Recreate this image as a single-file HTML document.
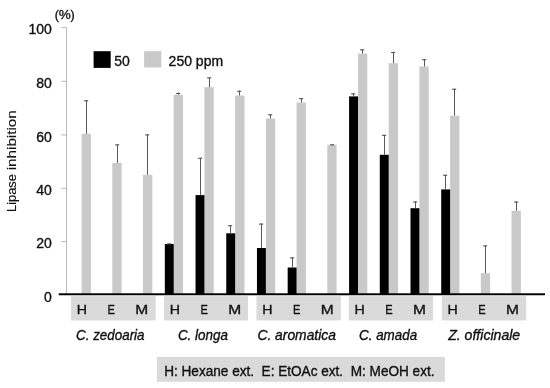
<!DOCTYPE html>
<html><head><meta charset="utf-8"><title>Lipase inhibition</title>
<style>
html,body{margin:0;padding:0;background:#fff;}
body{width:550px;height:388px;overflow:hidden;}
svg{display:block;}
text{font-family:'Liberation Sans', Arial, sans-serif;fill:#111;stroke:#111;stroke-width:0.35px;}
</style></head><body>
<svg width="550" height="388" viewBox="0 0 550 388">
<rect width="550" height="388" fill="#fff"/>
<line x1="66.5" y1="27.6" x2="66.5" y2="294.8" stroke="#b8b8b8" stroke-width="1"/>
<line x1="61.3" y1="27.60" x2="66.5" y2="27.60" stroke="#b8b8b8" stroke-width="1"/>
<line x1="61.3" y1="81.30" x2="66.5" y2="81.30" stroke="#b8b8b8" stroke-width="1"/>
<line x1="61.3" y1="134.90" x2="66.5" y2="134.90" stroke="#b8b8b8" stroke-width="1"/>
<line x1="61.3" y1="188.30" x2="66.5" y2="188.30" stroke="#b8b8b8" stroke-width="1"/>
<line x1="61.3" y1="241.60" x2="66.5" y2="241.60" stroke="#b8b8b8" stroke-width="1"/>
<rect x="81.60" y="133.80" width="9.3" height="161.00" fill="#c9c9c9"/>
<line x1="86.50" y1="100.20" x2="86.50" y2="133.80" stroke="#585858" stroke-width="1"/>
<line x1="84.10" y1="100.80" x2="88.20" y2="100.80" stroke="#585858" stroke-width="1.15"/>
<rect x="112.31" y="162.90" width="9.3" height="131.90" fill="#c9c9c9"/>
<line x1="117.50" y1="144.30" x2="117.50" y2="162.90" stroke="#585858" stroke-width="1"/>
<line x1="115.10" y1="144.90" x2="119.20" y2="144.90" stroke="#585858" stroke-width="1.15"/>
<rect x="143.02" y="174.80" width="9.3" height="120.00" fill="#c9c9c9"/>
<line x1="147.50" y1="134.30" x2="147.50" y2="174.80" stroke="#585858" stroke-width="1"/>
<line x1="145.10" y1="134.90" x2="149.20" y2="134.90" stroke="#585858" stroke-width="1.15"/>
<rect x="173.73" y="94.70" width="9.3" height="200.10" fill="#c9c9c9"/>
<line x1="178.50" y1="92.80" x2="178.50" y2="94.70" stroke="#585858" stroke-width="1"/>
<line x1="176.10" y1="93.40" x2="180.20" y2="93.40" stroke="#585858" stroke-width="1.15"/>
<rect x="164.83" y="244.00" width="8.9" height="50.80" fill="#000"/>
<line x1="169.50" y1="243.30" x2="169.50" y2="244.00" stroke="#585858" stroke-width="1"/>
<line x1="167.10" y1="243.90" x2="171.20" y2="243.90" stroke="#585858" stroke-width="1.15"/>
<rect x="204.44" y="87.20" width="9.3" height="207.60" fill="#c9c9c9"/>
<line x1="209.50" y1="77.30" x2="209.50" y2="87.20" stroke="#585858" stroke-width="1"/>
<line x1="207.10" y1="77.90" x2="211.20" y2="77.90" stroke="#585858" stroke-width="1.15"/>
<rect x="195.54" y="195.10" width="8.9" height="99.70" fill="#000"/>
<line x1="200.50" y1="157.70" x2="200.50" y2="195.10" stroke="#585858" stroke-width="1"/>
<line x1="198.10" y1="158.30" x2="202.20" y2="158.30" stroke="#585858" stroke-width="1.15"/>
<rect x="235.15" y="95.50" width="9.3" height="199.30" fill="#c9c9c9"/>
<line x1="239.50" y1="90.70" x2="239.50" y2="95.50" stroke="#585858" stroke-width="1"/>
<line x1="237.10" y1="91.30" x2="241.20" y2="91.30" stroke="#585858" stroke-width="1.15"/>
<rect x="226.25" y="233.30" width="8.9" height="61.50" fill="#000"/>
<line x1="230.50" y1="225.10" x2="230.50" y2="233.30" stroke="#585858" stroke-width="1"/>
<line x1="228.10" y1="225.70" x2="232.20" y2="225.70" stroke="#585858" stroke-width="1.15"/>
<rect x="265.86" y="118.50" width="9.3" height="176.30" fill="#c9c9c9"/>
<line x1="270.50" y1="114.20" x2="270.50" y2="118.50" stroke="#585858" stroke-width="1"/>
<line x1="268.10" y1="114.80" x2="272.20" y2="114.80" stroke="#585858" stroke-width="1.15"/>
<rect x="256.96" y="248.00" width="8.9" height="46.80" fill="#000"/>
<line x1="261.50" y1="223.50" x2="261.50" y2="248.00" stroke="#585858" stroke-width="1"/>
<line x1="259.10" y1="224.10" x2="263.20" y2="224.10" stroke="#585858" stroke-width="1.15"/>
<rect x="296.57" y="102.50" width="9.3" height="192.30" fill="#c9c9c9"/>
<line x1="301.50" y1="98.00" x2="301.50" y2="102.50" stroke="#585858" stroke-width="1"/>
<line x1="299.10" y1="98.60" x2="303.20" y2="98.60" stroke="#585858" stroke-width="1.15"/>
<rect x="287.67" y="267.50" width="8.9" height="27.30" fill="#000"/>
<line x1="292.50" y1="257.30" x2="292.50" y2="267.50" stroke="#585858" stroke-width="1"/>
<line x1="290.10" y1="257.90" x2="294.20" y2="257.90" stroke="#585858" stroke-width="1.15"/>
<rect x="327.28" y="144.90" width="9.3" height="149.90" fill="#c9c9c9"/>
<line x1="332.50" y1="144.20" x2="332.50" y2="144.90" stroke="#585858" stroke-width="1"/>
<line x1="330.10" y1="144.80" x2="334.20" y2="144.80" stroke="#585858" stroke-width="1.15"/>
<rect x="357.99" y="53.60" width="9.3" height="241.20" fill="#c9c9c9"/>
<line x1="362.50" y1="49.30" x2="362.50" y2="53.60" stroke="#585858" stroke-width="1"/>
<line x1="360.10" y1="49.90" x2="364.20" y2="49.90" stroke="#585858" stroke-width="1.15"/>
<rect x="349.09" y="96.40" width="8.9" height="198.40" fill="#000"/>
<line x1="353.50" y1="93.30" x2="353.50" y2="96.40" stroke="#585858" stroke-width="1"/>
<line x1="351.10" y1="93.90" x2="355.20" y2="93.90" stroke="#585858" stroke-width="1.15"/>
<rect x="388.70" y="63.20" width="9.3" height="231.60" fill="#c9c9c9"/>
<line x1="393.50" y1="51.90" x2="393.50" y2="63.20" stroke="#585858" stroke-width="1"/>
<line x1="391.10" y1="52.50" x2="395.20" y2="52.50" stroke="#585858" stroke-width="1.15"/>
<rect x="379.80" y="154.80" width="8.9" height="140.00" fill="#000"/>
<line x1="384.50" y1="134.80" x2="384.50" y2="154.80" stroke="#585858" stroke-width="1"/>
<line x1="382.10" y1="135.40" x2="386.20" y2="135.40" stroke="#585858" stroke-width="1.15"/>
<rect x="419.41" y="66.50" width="9.3" height="228.30" fill="#c9c9c9"/>
<line x1="424.50" y1="59.10" x2="424.50" y2="66.50" stroke="#585858" stroke-width="1"/>
<line x1="422.10" y1="59.70" x2="426.20" y2="59.70" stroke="#585858" stroke-width="1.15"/>
<rect x="410.51" y="208.20" width="8.9" height="86.60" fill="#000"/>
<line x1="415.50" y1="201.40" x2="415.50" y2="208.20" stroke="#585858" stroke-width="1"/>
<line x1="413.10" y1="202.00" x2="417.20" y2="202.00" stroke="#585858" stroke-width="1.15"/>
<rect x="450.12" y="115.70" width="9.3" height="179.10" fill="#c9c9c9"/>
<line x1="454.50" y1="88.70" x2="454.50" y2="115.70" stroke="#585858" stroke-width="1"/>
<line x1="452.10" y1="89.30" x2="456.20" y2="89.30" stroke="#585858" stroke-width="1.15"/>
<rect x="441.22" y="189.40" width="8.9" height="105.40" fill="#000"/>
<line x1="445.50" y1="174.70" x2="445.50" y2="189.40" stroke="#585858" stroke-width="1"/>
<line x1="443.10" y1="175.30" x2="447.20" y2="175.30" stroke="#585858" stroke-width="1.15"/>
<rect x="480.83" y="273.20" width="9.3" height="21.60" fill="#c9c9c9"/>
<line x1="485.50" y1="245.30" x2="485.50" y2="273.20" stroke="#585858" stroke-width="1"/>
<line x1="483.10" y1="245.90" x2="487.20" y2="245.90" stroke="#585858" stroke-width="1.15"/>
<rect x="511.54" y="210.80" width="9.3" height="84.00" fill="#c9c9c9"/>
<line x1="516.50" y1="201.50" x2="516.50" y2="210.80" stroke="#585858" stroke-width="1"/>
<line x1="514.10" y1="202.10" x2="518.20" y2="202.10" stroke="#585858" stroke-width="1.15"/>
<rect x="58.7" y="293.3" width="486.3" height="1.95" fill="#000"/>
<rect x="71.0" y="296.2" width="84.7" height="24.2" fill="#dadada"/>
<text transform="translate(81.80,314.4) scale(1.05,1)" text-anchor="middle" font-size="13.5">H</text>
<text transform="translate(111.10,314.4) scale(0.82,1)" text-anchor="middle" font-size="13.5">E</text>
<text transform="translate(141.60,314.4) scale(1.15,1)" text-anchor="middle" font-size="13.5">M</text>
<rect x="164.0" y="296.2" width="84.0" height="24.2" fill="#dadada"/>
<text transform="translate(174.80,314.4) scale(1.05,1)" text-anchor="middle" font-size="13.5">H</text>
<text transform="translate(204.10,314.4) scale(0.82,1)" text-anchor="middle" font-size="13.5">E</text>
<text transform="translate(234.60,314.4) scale(1.15,1)" text-anchor="middle" font-size="13.5">M</text>
<rect x="256.5" y="296.2" width="84.3" height="24.2" fill="#dadada"/>
<text transform="translate(267.30,314.4) scale(1.05,1)" text-anchor="middle" font-size="13.5">H</text>
<text transform="translate(296.60,314.4) scale(0.82,1)" text-anchor="middle" font-size="13.5">E</text>
<text transform="translate(327.10,314.4) scale(1.15,1)" text-anchor="middle" font-size="13.5">M</text>
<rect x="348.8" y="296.2" width="84.2" height="24.2" fill="#dadada"/>
<text transform="translate(359.60,314.4) scale(1.05,1)" text-anchor="middle" font-size="13.5">H</text>
<text transform="translate(388.90,314.4) scale(0.82,1)" text-anchor="middle" font-size="13.5">E</text>
<text transform="translate(419.40,314.4) scale(1.15,1)" text-anchor="middle" font-size="13.5">M</text>
<rect x="441.8" y="296.2" width="84.4" height="24.2" fill="#dadada"/>
<text transform="translate(452.60,314.4) scale(1.05,1)" text-anchor="middle" font-size="13.5">H</text>
<text transform="translate(481.90,314.4) scale(0.82,1)" text-anchor="middle" font-size="13.5">E</text>
<text transform="translate(512.40,314.4) scale(1.15,1)" text-anchor="middle" font-size="13.5">M</text>
<text x="76.1" y="339.6" font-size="14" font-style="italic" textLength="68.4" lengthAdjust="spacingAndGlyphs">C. zedoaria</text>
<text x="177.9" y="339.6" font-size="14" font-style="italic" textLength="50.0" lengthAdjust="spacingAndGlyphs">C. longa</text>
<text x="257.4" y="339.6" font-size="14" font-style="italic" textLength="78.5" lengthAdjust="spacingAndGlyphs">C. aromatica</text>
<text x="359.0" y="339.6" font-size="14" font-style="italic" textLength="58.2" lengthAdjust="spacingAndGlyphs">C. amada</text>
<text x="448.2" y="339.6" font-size="14" font-style="italic" textLength="72.0" lengthAdjust="spacingAndGlyphs">Z. officinale</text>
<text x="51.9" y="34.30" text-anchor="end" font-size="14">100</text>
<text x="51.9" y="88.00" text-anchor="end" font-size="14">80</text>
<text x="51.9" y="141.60" text-anchor="end" font-size="14">60</text>
<text x="51.9" y="195.00" text-anchor="end" font-size="14">40</text>
<text x="51.9" y="248.30" text-anchor="end" font-size="14">20</text>
<text x="51.9" y="301.70" text-anchor="end" font-size="14">0</text>
<text y="19.2" font-size="12.5"><tspan x="54.8" y="18.6">(</tspan><tspan x="58.7" y="19.2" font-size="13.5">%</tspan><tspan x="70.6" y="18.6">)</tspan></text>
<rect x="93.6" y="51.2" width="17.1" height="16.7" fill="#000"/>
<text x="114.2" y="65.7" font-size="14">50</text>
<rect x="144.1" y="51.2" width="17.2" height="16.2" fill="#c9c9c9"/>
<text x="168.6" y="65.7" font-size="14">250 ppm</text>
<text transform="translate(16.4,211.9) rotate(-90)" font-size="13.5" style="stroke-width:0.15px" textLength="37.8" lengthAdjust="spacingAndGlyphs">Lipase</text>
<text transform="translate(16.4,170.3) rotate(-90)" font-size="13.5" style="stroke-width:0.15px" textLength="60.1" lengthAdjust="spacingAndGlyphs">inhibition</text>
<rect x="156.9" y="356.9" width="288" height="24.9" fill="#dadada"/>
<text x="164.2" y="376" font-size="14" textLength="270.3" lengthAdjust="spacingAndGlyphs" xml:space="preserve">H: Hexane ext.  E: EtOAc ext.  M: MeOH ext.</text>
</svg>
</body></html>
